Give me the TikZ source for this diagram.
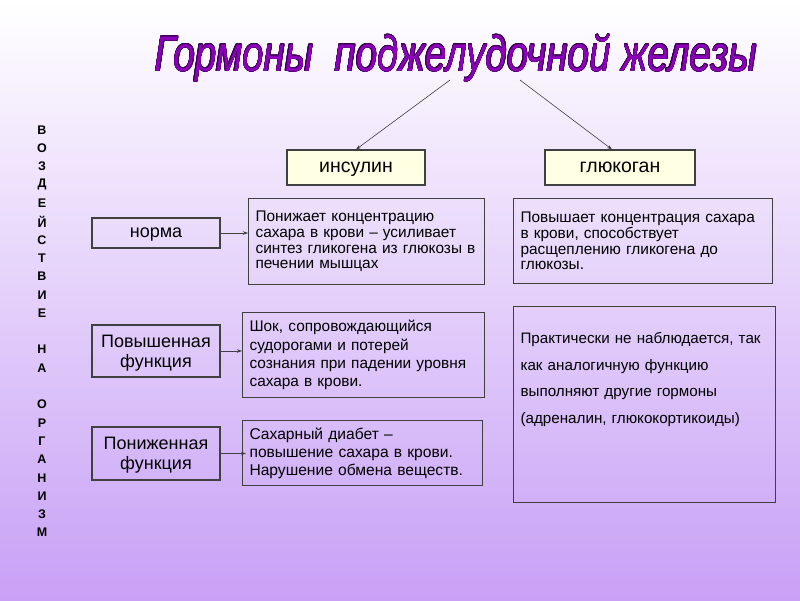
\documentclass[tikz,border=0pt]{standalone}
\usepackage{fontspec}
\setmainfont{Liberation Sans}
\newfontfamily\titlefont[FakeStretch=0.77]{Liberation Sans}
\usepackage{xcolor}
\usepackage{contour}
\contourlength{0.35pt}
\usetikzlibrary{positioning, arrows.meta, calc}

\definecolor{bgtop}{RGB}{255,255,255}
\definecolor{bgbot}{RGB}{200,160,246}
\definecolor{titlepurple}{RGB}{140,0,185}
\definecolor{titleedge}{RGB}{55,0,80}
\definecolor{boxline}{RGB}{64,64,64}
\definecolor{hormfill}{RGB}{255,255,228}

\tikzset{
  hormbox/.style={draw=boxline, line width=1.1pt, fill=hormfill, minimum height=35pt, text depth=0pt, font=\fontsize{19.5}{21}\selectfont},
  statebox/.style={draw=boxline, line width=1.1pt, minimum width=128pt, align=center, text depth=0pt, font=\fontsize{18}{20}\selectfont},
  infobox/.style={draw=boxline, line width=1.1pt, align=left, anchor=north west, inner xsep=7pt, font=\fontsize{15.4}{15.7}\selectfont},
  vletter/.style={font=\bfseries\fontsize{12.5}{13}\selectfont, inner sep=0pt},
  link/.style={draw=boxline, line width=0.6pt, -{Stealth[length=5pt,width=3.5pt]}},
}

\begin{document}
\begin{tikzpicture}[x=1pt, y=-1pt]
  % background
  \shade[top color=bgtop, bottom color=bgbot] (0,0) rectangle (800,600);
  \useasboundingbox (0,0) rectangle (800,600);

  \node[font={\titlefont\itshape\fontsize{50}{50}\selectfont}, text=titlepurple] (title) at (456,58)
    {\contour{titleedge}{Гормоны\ \ поджелудочной железы}};

  % hormones
  \node[hormbox, minimum width=138pt] (ins) at (356,167.5) {инсулин};
  \node[hormbox, minimum width=150pt] (glu) at (620,167.5) {глюкоган};
  \coordinate (tl) at (450,80);
  \coordinate (tr) at (520,80);
  \draw[link] (tl) -- (ins.north);
  \draw[link] (tr) -- ([xshift=-8pt]glu.north);

  % side label
  \foreach \i/\ch in {0/В,1/О,2/З,3/Д,4/Е,5/Й,6/С,7/Т,8/В,9/И,10/Е,12/Н,13/А,15/О,16/Р,17/Г,18/А,19/Н,20/И,21/З,22/М}
    \node[vletter] (v\i) at (42,{130+18.3*\i}) {\ch};

  % states
  \node[statebox, minimum height=30pt] (norm) at (156,233) {норма};
  \node[statebox, minimum height=52pt] (high) at (156,351) {Повышенная\\функция};
  \node[statebox, minimum height=53pt] (low) at (156,453.5) {Пониженная\\функция};

  % insulin effects
  \node[infobox, text width=222pt, minimum height=86pt] (i1) at (248,198)
    {Понижает концентрацию\\сахара в крови -- усиливает\\синтез гликогена из глюкозы в\\печении мышцах};
  \node[infobox, text width=228pt, minimum height=85pt, font=\fontsize{15.4}{18.3}\selectfont] (i2) at (242,312)
    {Шок, сопровождающийся\\судорогами и потерей\\сознания при падении уровня\\сахара в крови.};
  \node[infobox, text width=226pt, minimum height=65pt, font=\fontsize{15.6}{18}\selectfont] (i3) at (242,420)
    {Сахарный диабет --\\повышение сахара в крови.\\Нарушение обмена веществ.};

  % glucagon effects
  \node[infobox, text width=245pt, minimum height=85pt] (g1) at (513,198)
    {Повышает концентрация сахара\\в крови, способствует\\расщеплению гликогена до\\глюкозы.};
  \node[infobox, text width=248pt, text height=33pt, text depth=155pt, inner ysep=4pt, font=\fontsize{15.2}{26.5}\selectfont] (g2) at (513,306)
    {Практически не наблюдается, так\\как аналогичную функцию\\выполняют другие гормоны\\(адреналин, глюкокортикоиды)};

  \draw[link] (norm.east) -- (norm.east -| i1.west);
  \draw[link] (high.east) -- (high.east -| i2.west);
  \draw[link] (low.east) -- ([xshift=4pt]low.east -| i3.west);
\end{tikzpicture}
\end{document}
